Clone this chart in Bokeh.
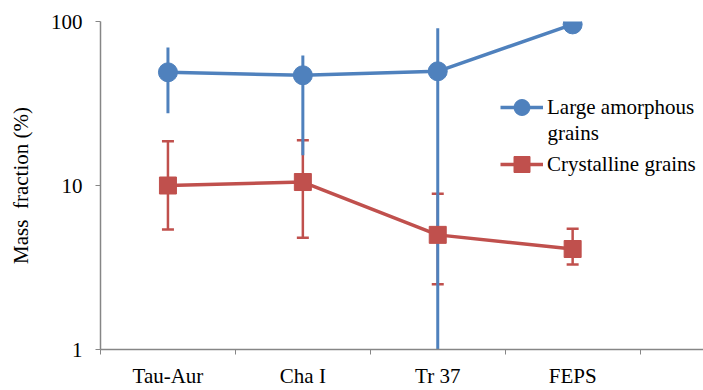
from bokeh.plotting import figure
from bokeh.models import (ColumnDataSource, FixedTicker, Whisker, TeeHead, Legend, LegendItem, Label)
from bokeh.embed import file_html
from bokeh.resources import INLINE

categories = ["Tau-Aur", "Cha I", "Tr 37", "FEPS"]
amorphous = [49, 47, 49.7, 96]
amorphous_hi = [69.5, 62, 91, None]
amorphous_lo = [27.6, 15.3, 0.5, None]
crystalline = [10, 10.5, 5.0, 4.1]
crystalline_hi = [18.6, 18.9, 8.9, 5.45]
crystalline_lo = [5.4, 4.8, 2.5, 3.3]

BLUE = "#4F81BD"
RED = "#C0504D"
FONT = "Liberation Serif"

xs = list(range(1, len(categories) + 1))

p = figure(width=703, height=390, output_backend="svg", toolbar_location=None,
           y_axis_type="log", x_range=(0.5, 4.97), y_range=(1, 100),
           min_border_left=100, min_border_right=0, min_border_top=21, min_border_bottom=40)
p.outline_line_color = None
p.background_fill_color = "white"
p.border_fill_color = "white"

# x axis
p.xaxis.ticker = FixedTicker(ticks=xs, minor_ticks=[x - 0.5 for x in xs] + [4.5])
p.xaxis.major_label_overrides = {x: c for x, c in zip(xs, categories)}
p.xaxis.major_tick_line_color = None
p.xaxis.major_tick_out = 0
p.xaxis.minor_tick_out = 5
p.xaxis.minor_tick_in = 0
p.xaxis.minor_tick_line_color = "#868686"
p.xaxis.axis_line_color = "#868686"
p.xaxis.axis_line_width = 1.5
p.xaxis.major_label_text_font = FONT
p.xaxis.major_label_text_font_size = "21px"
p.xaxis.major_label_text_color = "black"
p.xaxis.major_label_standoff = 9

# y axis
p.yaxis.ticker = FixedTicker(ticks=[1, 10, 100])
p.yaxis.major_label_overrides = {1: "1", 10: "10", 100: "100"}
p.yaxis.minor_tick_line_color = None
p.yaxis.major_tick_out = 5
p.yaxis.major_tick_in = 0
p.yaxis.major_tick_line_color = "#868686"
p.yaxis.axis_line_color = "#868686"
p.yaxis.axis_line_width = 1.5
p.yaxis.major_label_text_font = FONT
p.yaxis.major_label_text_font_size = "21px"
p.yaxis.major_label_text_color = "black"
p.yaxis.major_label_standoff = 13
p.yaxis.axis_label = "Mass\u00a0 fraction (%)"
p.yaxis.axis_label_text_font = FONT
p.yaxis.axis_label_text_font_size = "21px"
p.yaxis.axis_label_text_font_style = "normal"
p.yaxis.axis_label_text_color = "black"
p.yaxis.axis_label_standoff = 15

p.xgrid.grid_line_color = None
p.ygrid.ticker = FixedTicker(ticks=[100])
p.ygrid.grid_line_color = "#404040"
p.ygrid.grid_line_width = 2

# blue error bars (no caps)
bx = [x for x, h in zip(xs, amorphous_hi) if h is not None]
bhi = [h for h in amorphous_hi if h is not None]
blo = [l for l in amorphous_lo if l is not None]
p.segment(x0=bx, y0=blo, x1=bx, y1=bhi, line_color=BLUE, line_width=3)

src_a = ColumnDataSource(dict(x=xs, y=amorphous))
la = p.line("x", "y", source=src_a, line_color=BLUE, line_width=3.5)
ma = p.scatter("x", "y", source=src_a, marker="circle", size=19, fill_color=BLUE, line_color=BLUE)

# red error bars with caps
src_c = ColumnDataSource(dict(x=xs, y=crystalline, hi=crystalline_hi, lo=crystalline_lo))
w = Whisker(base="x", upper="hi", lower="lo", source=src_c, line_color=RED, line_width=2.5,
            upper_head=TeeHead(size=12, line_color=RED, line_width=2.5),
            lower_head=TeeHead(size=12, line_color=RED, line_width=2.5))
p.add_layout(w)
lc = p.line("x", "y", source=src_c, line_color=RED, line_width=3.5)
mc = p.scatter("x", "y", source=src_c, marker="square", size=17, fill_color=RED, line_color=RED)


def make_legend(label, renderers, loc):
    lg = Legend(items=[LegendItem(label=label, renderers=renderers)], location=loc)
    lg.label_text_font = FONT
    lg.label_text_font_size = "21px"
    lg.label_text_color = "black"
    lg.glyph_width = 43
    lg.glyph_height = 40
    lg.label_standoff = 4
    lg.padding = 0
    lg.margin = 0
    lg.spacing = 0
    lg.border_line_color = None
    lg.background_fill_alpha = 0
    return lg


# frame: left=100, bottom=350 -> offsets are measured from the frame's bottom-left
p.add_layout(make_legend("Large amorphous", [la, ma], (400, 222)), "center")
p.add_layout(make_legend("Crystalline grains", [lc, mc], (400, 165)), "center")
p.add_layout(Label(x=447, y=350 - 133, x_units="screen", y_units="screen", text="grains",
                   text_font=FONT, text_font_size="21px", text_color="black",
                   text_baseline="middle", text_align="left"))

open("out.html", "w").write(file_html(p, INLINE))
